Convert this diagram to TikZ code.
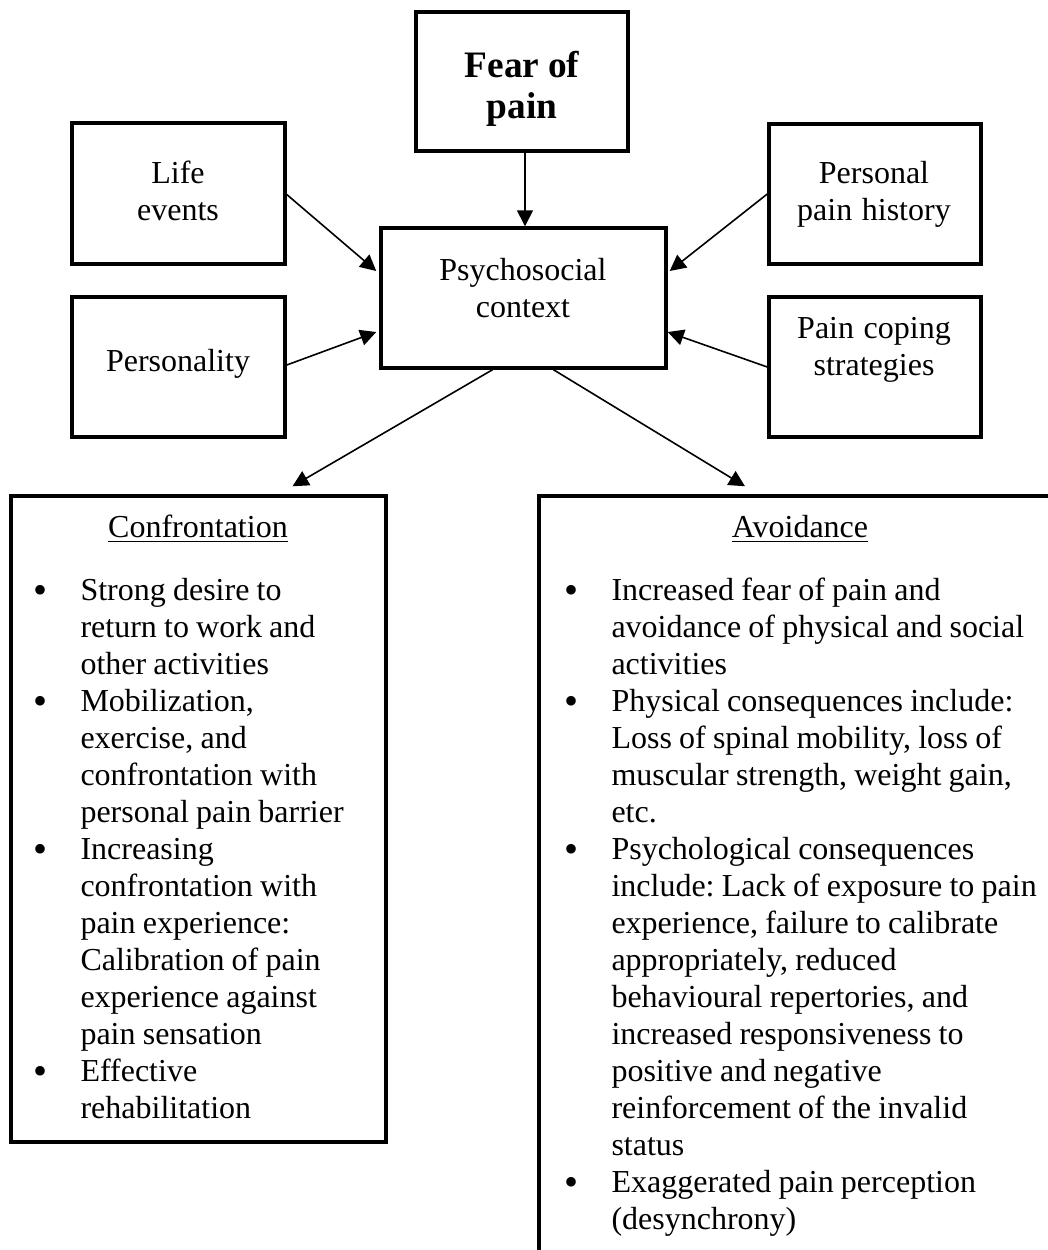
\documentclass[tikz,border=0pt]{standalone}
\usepackage{fontspec}
\setmainfont{Liberation Serif}
\usetikzlibrary{arrows.meta,fit,calc}
\newcommand\bul{\leavevmode\llap{\raisebox{-1.2pt}{\fontsize{15}{15}\selectfont\textbullet}\hspace{12.4pt}}}
\newcommand\sps{\frenchspacing\spaceskip=2.7pt plus 1pt minus 0.5pt\relax\xspaceskip=2.7pt plus 1pt minus 0.5pt\relax}
\begin{document}
\begin{tikzpicture}[x=0.375pt,y=-0.375pt,
  box/.style={draw,line width=1.3pt,inner sep=0pt},
  arr/.style={line width=0.6pt,-{Triangle[length=6pt,width=6pt]}},
  lbl/.style={inner sep=0pt,anchor=base,align=center,text width=100pt,font=\fontsize{12}{13.875}\selectfont},
  lst/.style={inner sep=0pt,anchor=base west,align=left,text width=200pt,font=\fontsize{12}{13.875}\selectfont}]
\useasboundingbox (0,0) rectangle (1048,1250);
\clip (0,0) rectangle (1048,1250);
\fill[white] (0,0) rectangle (1048,1250);

% boxes
\node[box,fit={(416,12) (628,151)}] (fear) {};
\node[box,fit={(72,123) (285,264)}] (life) {};
\node[box,fit={(72,297) (285,437)}] (pers) {};
\node[box,fit={(381,228) (666,368)}] (psych) {};
\node[box,fit={(769,124) (981,264)}] (hist) {};
\node[box,fit={(769,297) (981,437)}] (cope) {};
\node[box,fit={(11,496) (386,1142)}] (conf) {};
\node[box,fit={(539,496) (1061,1280)}] (avoid) {};

% texts
\node[lbl,font=\fontsize{14}{15.4}\selectfont\bfseries] (tfear) at (522,77) {\spaceskip=3.2pt\relax Fear of\\pain};
\node[lbl] (tlife) at (178,183) {\sps Life\\events};
\node[lbl] (tpers) at (178,371) {\sps Personality};
\node[lbl] (tpsych) at (523,280) {\sps Psychosocial\\context};
\node[lbl] (thist) at (874,183) {\sps Personal\\pain history};
\node[lbl] (tcope) at (874,338) {\sps Pain coping\\strategies};
\node[lbl] (tconf) at (198,537) {\underline{Confrontation}};
\node[lbl] (tavoid) at (800,537) {\underline{Avoidance}};

\node[lst] (lconf) at (80,600) {\sps\bul Strong desire to\\
return to work and\\
other activities\\
\bul Mobilization,\\
exercise, and\\
confrontation with\\
personal pain barrier\\
\bul Increasing\\
confrontation with\\
pain experience:\\
Calibration of pain\\
experience against\\
pain sensation\\
\bul Effective\\
rehabilitation};

\node[lst] (lavoid) at (611,600) {\sps\bul Increased fear of pain and\\
avoidance of physical and social\\
activities\\
\bul Physical consequences include:\\
Loss of spinal mobility, loss of\\
muscular strength, weight gain,\\
etc.\\
\bul Psychological consequences\\
include: Lack of exposure to pain\\
experience, failure to calibrate\\
appropriately, reduced\\
behavioural repertories, and\\
increased responsiveness to\\
positive and negative\\
reinforcement of the invalid\\
status\\
\bul Exaggerated pain perception\\
(desynchrony)};

% connectors
\draw[arr] ($(fear.south)+(3,0)$) -- ($(psych.north)+(1.5,0)$);
\draw[arr] ($(life.east)+(0,1)$) -- ($(psych.west)+(-3,-27)$);
\draw[arr] ($(pers.east)+(0,-2)$) -- ($(psych.west)+(-3,34)$);
\draw[arr] (hist.west) -- ($(psych.east)+(2,-27)$);
\draw[arr] (cope.west) -- ($(psych.east)+(0,34)$);
\draw[arr] ($(psych.south)+(-31,0)$) -- ($(conf.north)+(94,-8)$);
\draw[arr] ($(psych.south)+(30,0)$) -- ($(avoid.north)+(-55,-8)$);
\end{tikzpicture}
\end{document}
